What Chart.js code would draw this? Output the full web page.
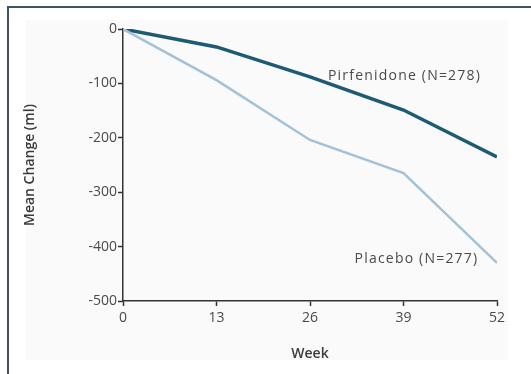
<!DOCTYPE html>
<html>
<head>
<meta charset="utf-8">
<script src="https://cdn.jsdelivr.net/npm/chart.js@4/dist/chart.umd.min.js"></script>
<style>
  html, body { margin: 0; padding: 0; background: #fff; }
  #wrap { position: relative; width: 531px; height: 374px; overflow: hidden; }
  /* outer figure frame, only top and left edges fall inside the view */
  #frame { position: absolute; left: 7px; top: 6px; width: 600px; height: 450px;
           border: 2px solid #3e5562; box-sizing: border-box; }
  #panel { position: absolute; left: 26px; top: 20px; width: 482px; height: 340px; background: #fafafa; }
  #chart { position: absolute; left: 0; top: 0; }
</style>
</head>
<body>
<div id="wrap">
  <div id="frame"></div>
  <div id="panel"></div>
  <canvas id="chart" width="531" height="374"></canvas>
</div>
<script>
// ─── FVC change over 52 weeks ───

const weeks = [0, 13, 26, 39, 52];
const pirfenidone = [0, -33, -88, -149, -235];
const placebo = [0, -94, -204, -265, -430];
const yTicks = [0, -100, -200, -300, -400, -500];

// inline series labels, placed in data coordinates
const seriesLabels = [
    { text: 'Pirfenidone (N=278)', x: 28.5, y: -86 },
    { text: 'Placebo (N=277)', x: 32.2, y: -423 }
];

const FONT = "'Open Sans', 'Lato', sans-serif";
const INK = '#4a4a4a';
const AXIS = '#333';

const seriesLabelPlugin = {
    id: 'seriesLabels',
    afterDatasetsDraw: (chart) => {
        const ctx = chart.ctx;
        const xs = chart.scales.x;
        const ys = chart.scales.y;
        ctx.save();
        ctx.font = `14px ${FONT}`;
        ctx.letterSpacing = '1.2px';
        ctx.fillStyle = INK;
        ctx.textAlign = 'left';
        ctx.textBaseline = 'middle';
        seriesLabels.forEach(l => {
            ctx.fillText(l.text, xs.getPixelForValue(l.x), ys.getPixelForValue(l.y));
        });
        ctx.restore();
    }
};

Chart.defaults.font.family = FONT;
Chart.defaults.color = INK;

const ctx = document.getElementById('chart').getContext('2d');
new Chart(ctx, {
    type: 'line',
    data: {
        labels: weeks,
        datasets: [{
            label: 'Placebo',
            data: weeks.map((w, i) => ({ x: w, y: placebo[i] })),
            borderColor: '#a3c1d8',
            borderWidth: 2.5,
            pointRadius: 0,
            tension: 0,
            fill: false
        }, {
            label: 'Pirfenidone',
            data: weeks.map((w, i) => ({ x: w, y: pirfenidone[i] })),
            borderColor: '#1d5a73',
            borderWidth: 3.5,
            pointRadius: 0,
            tension: 0,
            fill: false
        }]
    },
    options: {
        responsive: false,
        animation: false,
        layout: { padding: { left: 18, right: 34, top: 29, bottom: 8 } },
        plugins: {
            legend: { display: false },
            tooltip: { enabled: false }
        },
        scales: {
            x: {
                type: 'linear',
                min: 0, max: 52,
                afterBuildTicks: s => { s.ticks = weeks.map(v => ({ value: v })); },
                afterFit: s => { s.height = 65; },
                border: { color: AXIS, width: 1.5 },
                grid: { drawOnChartArea: false, color: AXIS, tickLength: 5, tickWidth: 1.5 },
                ticks: { font: { size: 14 }, color: INK, padding: 4, maxRotation: 0 },
                title: { display: true, text: 'Week', font: { size: 14, weight: '600' }, color: '#3a3a3a', padding: { top: 4, bottom: 4 } }
            },
            y: {
                type: 'linear',
                min: -500, max: 0,
                afterBuildTicks: s => { s.ticks = yTicks.map(v => ({ value: v })); },
                afterFit: s => { s.width = 105; },
                border: { color: AXIS, width: 1.5 },
                grid: { drawOnChartArea: false, color: AXIS, tickLength: 5, tickWidth: 1.5 },
                ticks: { font: { size: 14 }, color: INK, padding: 1 },
                title: { display: true, text: 'Mean Change (ml)', font: { size: 14, weight: '600' }, color: '#3a3a3a', padding: { top: 4, bottom: 4 } }
            }
        }
    },
    plugins: [seriesLabelPlugin]
});
</script>
</body>
</html>
